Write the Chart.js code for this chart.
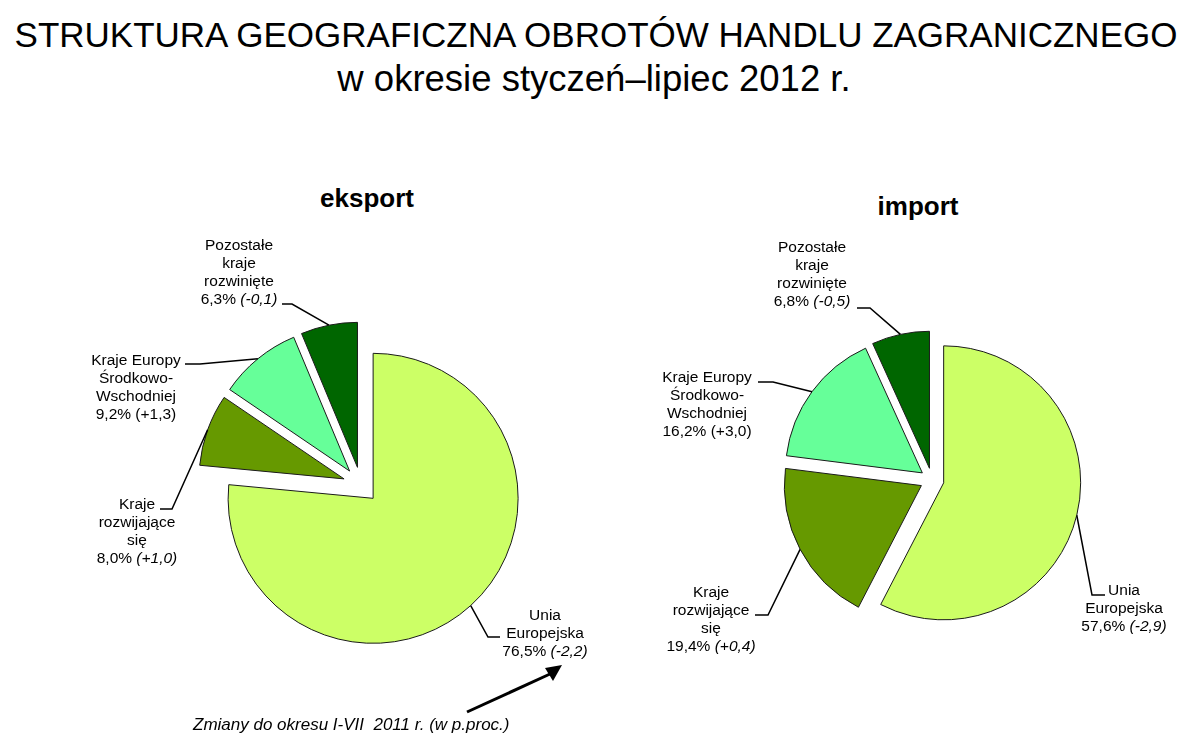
<!DOCTYPE html>
<html lang="pl">
<head>
<meta charset="utf-8">
<title>Struktura geograficzna obrotów handlu zagranicznego</title>
<script src="https://cdn.jsdelivr.net/npm/chart.js@4.4.1/dist/chart.umd.min.js"></script>
<style>
  html, body { margin: 0; padding: 0; background: #fff; }
  #page { position: relative; width: 1200px; height: 755px; overflow: hidden;
          font-family: "Liberation Sans", Arial, sans-serif; color: #000; }
  #page canvas, #page svg { position: absolute; left: 0; top: 0; }
  .txt { position: absolute; white-space: pre; line-height: 1; text-align: center; }
  #title1 { left: 0; width: 1192px; top: 17px; font-size: 35px; }
  #title2 { left: 0; width: 1188px; top: 61px; font-size: 36.5px; }
  .sub { font-size: 26px; font-weight: bold; width: 200px; }
  #note { left: 193px; top: 716px; font-size: 17px; font-style: italic; text-align: left; }
</style>
</head>
<body>
<div id="page">
  <div class="txt" id="title1">STRUKTURA GEOGRAFICZNA OBROTÓW HANDLU ZAGRANICZNEGO</div>
  <div class="txt" id="title2">w okresie styczeń–lipiec 2012 r.</div>
  <div class="txt sub" style="left:267px; top:185px;">eksport</div>
  <div class="txt sub" style="left:818px; top:193px;">import</div>
  <canvas id="canvasEksport" width="1200" height="755"></canvas>
  <canvas id="canvasImport" width="1200" height="755"></canvas>
  <svg width="1200" height="755">
    <line x1="467" y1="712" x2="550" y2="674" stroke="#000" stroke-width="3"/>
    <polygon points="562,665 545,668 553,681" fill="#000"/>
  </svg>
  <div class="txt" id="note">Zmiany do okresu I-VII  2011 r. (w p.proc.)</div>
</div>

<script>
// Kategorie (podzielone na linie etykiet)
const categoryLines = [
  ['Unia', 'Europejska'],
  ['Kraje', 'rozwijające', 'się'],
  ['Kraje Europy', 'Środkowo-', 'Wschodniej'],
  ['Pozostałe', 'kraje', 'rozwinięte']
];

// Udziały w % i zmiany do okresu I-VII 2011 (w p.proc.)
const eksportShares = [76.5, 8.0, 9.2, 6.3];
const eksportChanges = [-2.2, 1.0, 1.3, -0.1];
const importShares = [57.6, 19.4, 16.2, 6.8];
const importChanges = [-2.9, 0.4, 3.0, -0.5];

const sliceColors = ['#ccff66', '#669900', '#66ff99', '#006600'];

// Położenie etykiet: środek tekstu, linia bazowa pierwszego wiersza, początek linii odniesienia
const eksportLabelLayout = [
  { x: 545, y: 620, italic: true,  leader: [[500, 637], [488, 637]] },
  { x: 137, y: 509, italic: true,  leader: [[160, 509], [172, 509]] },
  { x: 136, y: 365, italic: false, leader: [[185, 364], [200, 364]] },
  { x: 239, y: 250, italic: true,  leader: [[282, 304], [292, 304]] }
];
const importLabelLayout = [
  { x: 1124, y: 595, italic: true,  leader: [[1105, 595], [1092, 595]] },
  { x: 711,  y: 597, italic: true,  leader: [[755, 615], [768, 615]] },
  { x: 707,  y: 382, italic: false, leader: [[758, 382], [773, 382]] },
  { x: 812,  y: 252, italic: true,  leader: [[857, 308], [870, 308]] }
];

const FONT = '"Liberation Sans", Arial, sans-serif';

function fmt(v) {
  return v.toFixed(1).replace('.', ',');
}

// Wysunięcie wszystkich wycinków od środka (jak w Excelu)
const explodePlugin = {
  id: 'explode',
  beforeDatasetDraw(chart, args, opts) {
    const d = opts.distance || 0;
    args.meta.data.forEach(arc => {
      const mid = (arc.startAngle + arc.endAngle) / 2;
      arc.x += Math.cos(mid) * d;
      arc.y += Math.sin(mid) * d;
    });
  },
  afterDatasetDraw(chart, args, opts) {
    const d = opts.distance || 0;
    args.meta.data.forEach(arc => {
      const mid = (arc.startAngle + arc.endAngle) / 2;
      arc.x -= Math.cos(mid) * d;
      arc.y -= Math.sin(mid) * d;
    });
  }
};

// Etykiety z liniami odniesienia
const labelPlugin = {
  id: 'sliceLabels',
  afterDatasetsDraw(chart, args, opts) {
    const ctx = chart.ctx;
    const meta = chart.getDatasetMeta(0);
    const ds = chart.data.datasets[0];
    const d = chart.options.plugins.explode.distance;
    meta.data.forEach((arc, i) => {
      const lay = opts.layout[i];
      const mid = (arc.startAngle + arc.endAngle) / 2;
      const ax = arc.x + Math.cos(mid) * (d + arc.outerRadius);
      const ay = arc.y + Math.sin(mid) * (d + arc.outerRadius);

      ctx.save();
      ctx.strokeStyle = '#000';
      ctx.lineWidth = 1.5;
      ctx.beginPath();
      ctx.moveTo(lay.leader[0][0], lay.leader[0][1]);
      lay.leader.slice(1).forEach(p => ctx.lineTo(p[0], p[1]));
      ctx.lineTo(ax, ay);
      ctx.stroke();

      ctx.fillStyle = '#000';
      ctx.textBaseline = 'alphabetic';
      ctx.textAlign = 'center';
      ctx.font = '15.5px ' + FONT;
      const lines = chart.data.labels[i];
      lines.forEach((t, k) => ctx.fillText(t, lay.x, lay.y + k * 18));

      // ostatni wiersz: udział + zmiana
      const y = lay.y + lines.length * 18;
      const c = ds.changes[i];
      const part1 = fmt(ds.data[i]) + '% ';
      const part2 = '(' + (c > 0 ? '+' : c < 0 ? '-' : '') + fmt(Math.abs(c)) + ')';
      const font2 = (lay.italic ? 'italic ' : '') + '15.5px ' + FONT;
      ctx.textAlign = 'left';
      const w1 = ctx.measureText(part1).width;
      ctx.font = font2;
      const w2 = ctx.measureText(part2).width;
      const x0 = lay.x - (w1 + w2) / 2;
      ctx.font = '15.5px ' + FONT;
      ctx.fillText(part1, x0, y);
      ctx.font = font2;
      ctx.fillText(part2, x0 + w1, y);
      ctx.restore();
    });
  }
};

function makePie(canvasId, shares, changes, layout, radius, distance, padding) {
  return new Chart(document.getElementById(canvasId), {
    type: 'pie',
    data: {
      labels: categoryLines,
      datasets: [{
        data: shares,
        changes: changes,
        backgroundColor: sliceColors,
        borderColor: '#1a1a1a',
        borderWidth: 1,
        radius: radius
      }]
    },
    options: {
      responsive: false,
      animation: false,
      events: [],
      layout: { padding: padding },
      plugins: {
        legend: { display: false },
        tooltip: { enabled: false },
        explode: { distance: distance },
        sliceLabels: { layout: layout }
      }
    },
    plugins: [explodePlugin, labelPlugin]
  });
}

const chartEksport = makePie('canvasEksport', eksportShares, eksportChanges, eksportLabelLayout,
  145, 18, { left: 0, right: 478, top: 215, bottom: 0 });
const chartImport = makePie('canvasImport', importShares, importChanges, importLabelLayout,
  137, 12, { left: 664, right: 0, top: 205, bottom: 0 });
</script>
</body>
</html>
